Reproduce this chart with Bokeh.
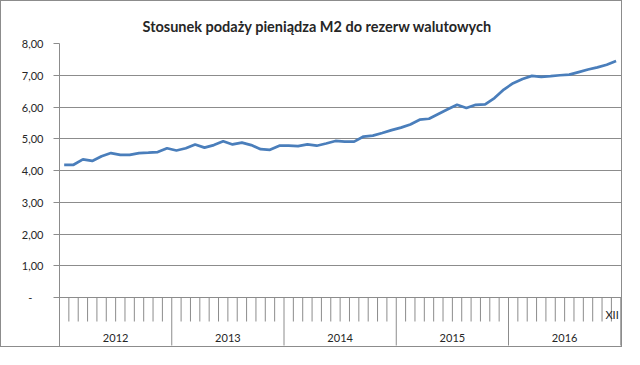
from bokeh.plotting import figure
from bokeh.models import Range1d, FixedTicker, ColumnDataSource
from bokeh.embed import file_html
from bokeh.resources import INLINE
from bokeh.core.properties import value

title = "Stosunek podaży pieniądza M2 do rezerw walutowych"
years = ["2012", "2013", "2014", "2015", "2016"]
last_month_label = "XII"
y_ticks = [0, 1, 2, 3, 4, 5, 6, 7, 8]
y_tick_labels = ["-", "1,00", "2,00", "3,00", "4,00", "5,00", "6,00", "7,00", "8,00"]

v2012 = [4.18, 4.18, 4.35, 4.30, 4.45, 4.55, 4.49, 4.49, 4.55, 4.56, 4.58, 4.70]
v2013 = [4.63, 4.70, 4.82, 4.72, 4.80, 4.92, 4.82, 4.88, 4.80, 4.67, 4.65, 4.78]
v2014 = [4.78, 4.77, 4.82, 4.78, 4.85, 4.93, 4.91, 4.91, 5.07, 5.10, 5.18, 5.27]
v2015 = [5.35, 5.45, 5.60, 5.63, 5.78, 5.93, 6.07, 5.97, 6.07, 6.08, 6.28, 6.55]
v2016 = [6.75, 6.88, 6.98, 6.95, 6.97, 7.00, 7.02, 7.10, 7.18, 7.25, 7.33, 7.45]

values = v2012 + v2013 + v2014 + v2015 + v2016
n = len(values)
per_year = n // len(years)
xs = [i + 0.5 for i in range(n)]

FONT = "Lato"
GRID = "#8c8c8c"
TXT = "#262626"
PX = 31.75  # pixels per y unit

p = figure(width=622, height=347, output_backend="svg", toolbar_location=None,
           x_range=Range1d(0, n + 0.08), y_range=Range1d(-49 / PX, 8.0),
           min_border_left=58, min_border_right=2, min_border_top=42, min_border_bottom=2)
p.styles = {"border": "1px solid #8c8c8c"}
p.outline_line_color = None
p.background_fill_color = "white"

p.title.text = title
p.title.align = "left"
p.title.offset = 83
p.title.standoff = 17
p.title.text_font = FONT
p.title.text_font_size = "14.5px"
p.title.text_font_style = "bold"
p.title.text_color = TXT

p.xaxis.visible = False
p.xgrid.visible = False

p.yaxis.ticker = FixedTicker(ticks=y_ticks)
p.yaxis.major_label_overrides = {t: (lab if lab != "-" else "-\u00a0\u00a0\u00a0\u00a0") for t, lab in zip(y_ticks, y_tick_labels)}
p.yaxis.major_label_text_font = FONT
p.yaxis.major_label_text_font_size = "11px"
p.yaxis.major_label_text_color = TXT
p.yaxis.axis_line_color = GRID
p.yaxis.major_tick_line_color = GRID
p.yaxis.major_tick_out = 6
p.yaxis.major_tick_in = 0
p.yaxis.minor_tick_line_color = None
p.yaxis.major_label_standoff = 10
p.ygrid.ticker = FixedTicker(ticks=y_ticks)
p.ygrid.grid_line_color = GRID
p.ygrid.grid_line_width = 1

# month ticks and year separators (category axis drawn below the x axis line)
tick_len = 24 / PX
sep_len = 48 / PX
mx = [i for i in range(1, n) if i % per_year != 0]
p.segment(x0=mx, y0=[0] * len(mx), x1=mx, y1=[-tick_len] * len(mx), line_color=GRID, line_width=1)
sx = [i * per_year for i in range(len(years) + 1)]
p.segment(x0=sx, y0=[0] * len(sx), x1=sx, y1=[-sep_len] * len(sx), line_color=GRID, line_width=1)

p.text(x=[i * per_year + per_year / 2 for i in range(len(years))], y=[-40 / PX] * len(years), text=years,
       text_font=value(FONT), text_font_size="11px", text_color=TXT,
       text_align="center", text_baseline="middle")
p.text(x=[n], y=[-17 / PX], text=[last_month_label], x_offset=-2,
       text_font=value(FONT), text_font_size="11px", text_color=TXT,
       text_align="right", text_baseline="middle")

src = ColumnDataSource(dict(x=xs, y=values))
p.line("x", "y", source=src, line_color="#4a7ebb", line_width=2.75)

open("out.html", "w").write(file_html(p, INLINE))
